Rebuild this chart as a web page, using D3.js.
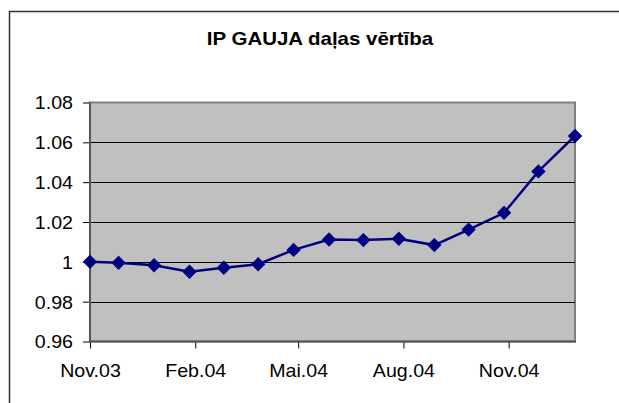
<!DOCTYPE html>
<html>
<head>
<meta charset="utf-8">
<script src="https://cdnjs.cloudflare.com/ajax/libs/d3/7.8.5/d3.min.js"></script>
<style>
  body { margin: 0; background: #fff; }
  svg { display: block; }
  text { font-family: "Liberation Sans", Arial, sans-serif; fill: #000; }
</style>
</head>
<body>
<div id="root"></div>
<script>
// data
const dates = ['2003-11-01','2003-11-26','2003-12-27','2004-01-27','2004-02-26','2004-03-27',
               '2004-04-27','2004-05-28','2004-06-27','2004-07-28','2004-08-28','2004-09-27',
               '2004-10-28','2004-11-27','2004-12-29'];
const values = [1.000, 0.9995, 0.9983, 0.995, 0.997, 0.9988, 1.006, 1.0112, 1.0109, 1.0116,
                1.0084, 1.0162, 1.0246, 1.0454, 1.0632];
const xTickDates = ['2003-11-01','2004-02-01','2004-05-01','2004-08-01','2004-11-01'];
const xTickLabels = ['Nov.03','Feb.04','Mai.04','Aug.04','Nov.04'];
const yTicks = [0.96, 0.98, 1.00, 1.02, 1.04, 1.06, 1.08];
const title = 'IP GAUJA daļas vērtība';

const W = 619, H = 403;
const plot = {left: 90, right: 575, top: 102.5, bottom: 341.5};
const stretch = 1.09;   // the original text is a bit wide
const parse = d3.utcParse('%Y-%m-%d');

const data = dates.map((d, i) => ({date: parse(d), value: values[i]}));

const x = d3.scaleUtc()
    .domain(d3.extent(data, d => d.date))
    .range([plot.left, plot.right]);
const y = d3.scaleLinear()
    .domain([0.96, 1.08])
    .range([plot.bottom, plot.top]);

const svg = d3.select('#root').append('svg')
    .attr('width', W)
    .attr('height', H);

// outer chart border (runs off right/bottom)
svg.append('rect')
    .attr('x', 9.5).attr('y', 11.5)
    .attr('width', W + 20).attr('height', H + 20)
    .attr('fill', 'none')
    .attr('stroke', '#333')
    .attr('stroke-width', 1.5);

// title
svg.append('text')
    .attr('transform', 'translate(320,45) scale(1.17,1)')
    .attr('text-anchor', 'middle')
    .attr('font-weight', 'bold')
    .attr('font-size', 17.5)
    .text(title);

// plot background
svg.append('rect')
    .attr('x', plot.left).attr('y', plot.top)
    .attr('width', plot.right - plot.left)
    .attr('height', plot.bottom - plot.top)
    .attr('fill', '#c0c0c0')
    .attr('stroke', '#808080')
    .attr('stroke-width', 2);

// gridlines
svg.append('g').selectAll('line')
    .data(yTicks.filter(v => v > 0.96 && v < 1.08))
    .enter().append('line')
    .attr('x1', plot.left).attr('x2', plot.right)
    .attr('y1', d => Math.round(y(d)) + 0.5)
    .attr('y2', d => Math.round(y(d)) + 0.5)
    .attr('stroke', '#000')
    .attr('stroke-width', 1);

// y axis
const yAxis = d3.axisLeft(y)
    .tickValues(yTicks)
    .tickSize(7)
    .tickPadding(10)
    .tickFormat(d => d3.format('~g')(+d.toFixed(2)));
const gy = svg.append('g')
    .attr('transform', `translate(${plot.left},0)`)
    .call(yAxis);
gy.select('.domain').remove();
gy.selectAll('.tick line').attr('stroke', '#000');
gy.selectAll('.tick text')
    .attr('font-size', 18)
    .attr('font-family', '"Liberation Sans", Arial, sans-serif')
    .attr('dy', '0.36em')
    .attr('x', -17 / stretch)
    .attr('transform', `scale(${stretch},1)`);

// x axis
const xAxis = d3.axisBottom(x)
    .tickValues(xTickDates.map(parse))
    .tickSize(7)
    .tickPadding(16)
    .tickFormat((d, i) => xTickLabels[i]);
const gx = svg.append('g')
    .attr('transform', `translate(0,${plot.bottom})`)
    .call(xAxis);
gx.select('.domain').remove();
gx.selectAll('.tick line').attr('stroke', '#000');
gx.selectAll('.tick text')
    .attr('font-size', 18)
    .attr('font-family', '"Liberation Sans", Arial, sans-serif')
    .attr('transform', `scale(${stretch},1)`);

// axis lines
svg.append('line')
    .attr('x1', plot.left).attr('x2', plot.left)
    .attr('y1', plot.top).attr('y2', plot.bottom + 1)
    .attr('stroke', '#555').attr('stroke-width', 2);
svg.append('line')
    .attr('x1', plot.left).attr('x2', plot.right + 1)
    .attr('y1', plot.bottom).attr('y2', plot.bottom)
    .attr('stroke', '#555').attr('stroke-width', 2);

// series line
const line = d3.line()
    .x(d => x(d.date))
    .y(d => y(d.value));
svg.append('path')
    .datum(data)
    .attr('d', line)
    .attr('fill', 'none')
    .attr('stroke', '#000080')
    .attr('stroke-width', 2.5);

// diamond markers
const diamond = d3.symbol().type(d3.symbolSquare).size(84);
svg.append('g').selectAll('path')
    .data(data)
    .enter().append('path')
    .attr('d', diamond)
    .attr('transform', d => `translate(${x(d.date)},${y(d.value)}) rotate(45)`)
    .attr('fill', '#000080')
    .attr('stroke', '#000080')
    .attr('stroke-width', 1);
</script>
</body>
</html>
